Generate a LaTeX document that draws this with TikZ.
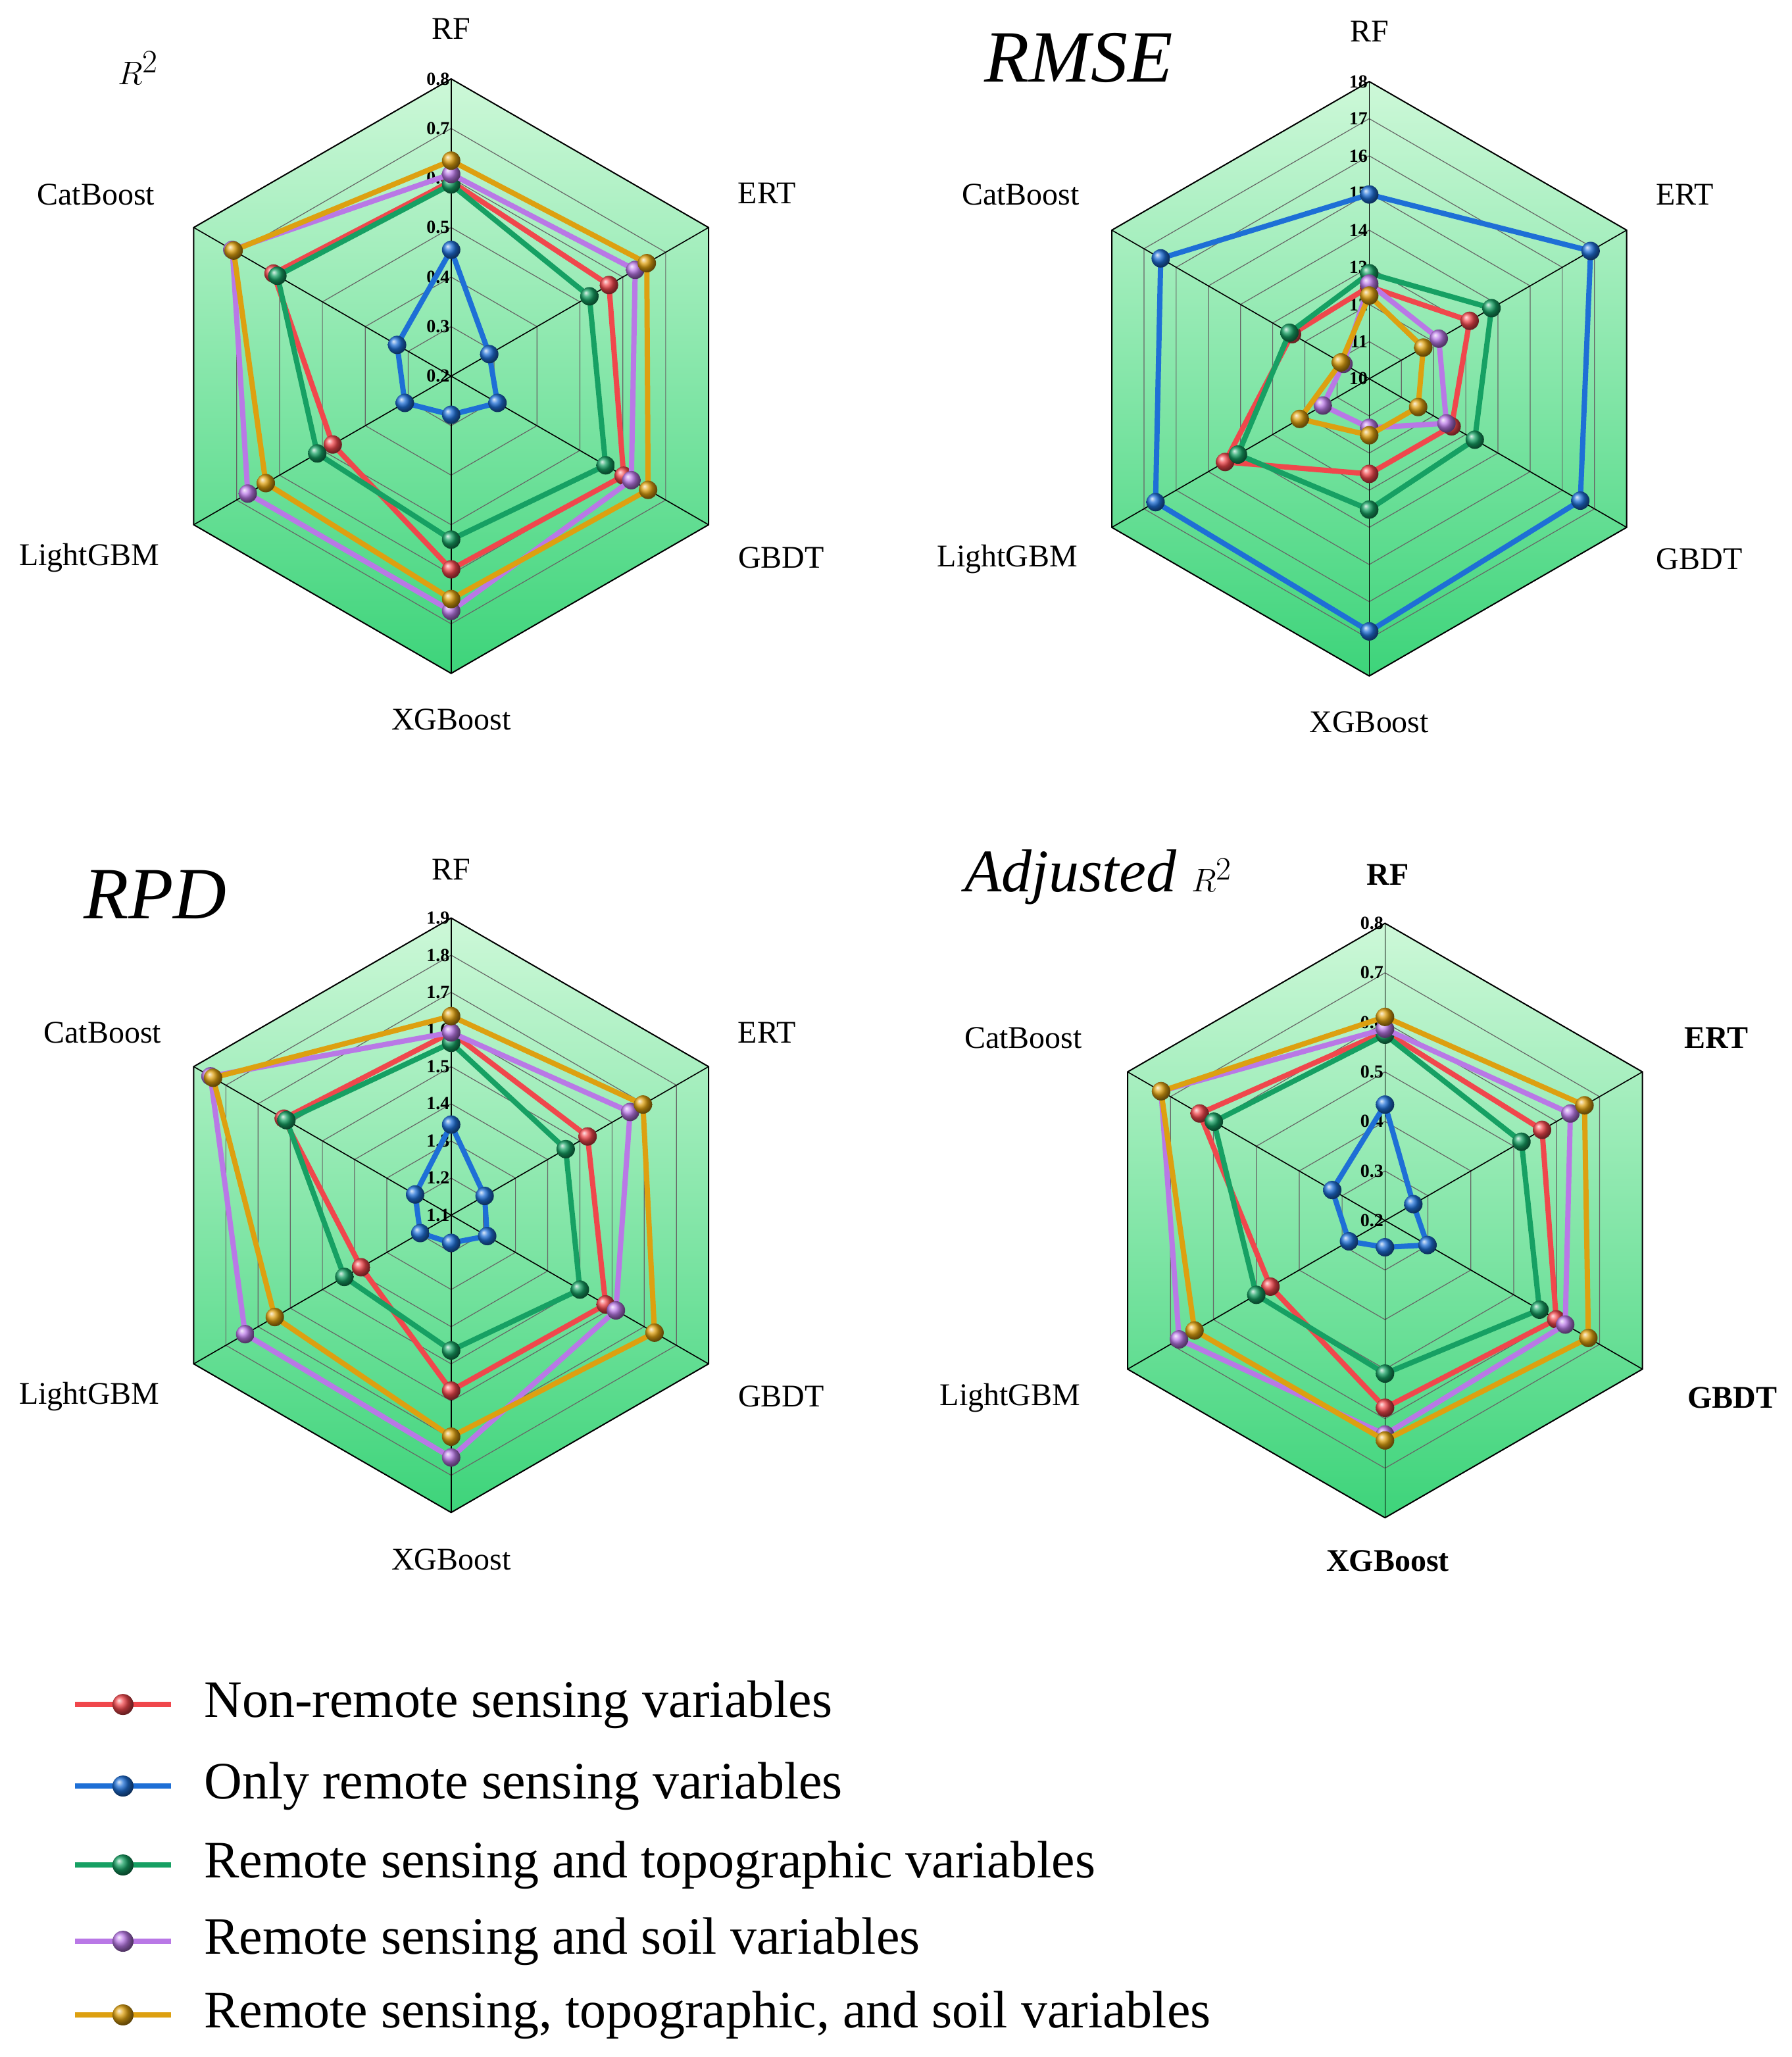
\documentclass[tikz,border=0pt]{standalone}
\usepackage{fontspec}
\setmainfont{Liberation Serif}
\usetikzlibrary{calc}
\begin{document}
\begin{tikzpicture}[x=1pt,y=1pt,
  lab/.style={font=\fontsize{24}{26}\selectfont},
  blab/.style={font=\bfseries\fontsize{24}{26}\selectfont},
  tick/.style={font=\bfseries\fontsize{14}{15}\selectfont,anchor=east,inner sep=1pt},
  ttl/.style={font=\itshape\fontsize{56}{60}\selectfont},
  ser/.style={line width=4pt,line join=round},
  ball/.style={ball color=#1,draw=none}]
\useasboundingbox (0,0) rectangle (1362,1564);
\definecolor{cR}{HTML}{F0474C}
\definecolor{cB}{HTML}{1E6FD6}
\definecolor{cG}{HTML}{16A063}
\definecolor{cP}{HTML}{B978E6}
\definecolor{cO}{HTML}{DDA010}
\definecolor{bgT}{HTML}{CDF8D8}
\definecolor{bgB}{HTML}{3DD47A}
\newcommand{\hexat}[2]{\coordinate (h1) at (90:#1*#2);\coordinate (h2) at (30:#1*#2);\coordinate (h3) at (-30:#1*#2);\coordinate (h4) at (-90:#1*#2);\coordinate (h5) at (-150:#1*#2);\coordinate (h6) at (150:#1*#2);}
\newcommand{\radarbg}[2]{% n rings, tick labels
  \hexat{1}{226}
  \shade[top color=bgT, bottom color=bgB] (h1)--(h2)--(h3)--(h4)--(h5)--(h6)--cycle;
  \foreach \k in {1,...,#1}{\hexat{\k/#1}{226}\draw[black!60,line width=0.6pt] (h1)--(h2)--(h3)--(h4)--(h5)--(h6)--cycle;}
  \hexat{1}{226}
  \draw[black,line width=1pt] (h1)--(h2)--(h3)--(h4)--(h5)--(h6)--cycle;
  \foreach \a in {90,30,-30,-90,-150,150}{\draw[black,line width=0.8pt] (0,0)--(\a:226);}
  \foreach \t [count=\i from 0] in {#2}{\node[tick] (tk\i) at (0,{226*\i/#1}) {\t};}
}
\newcommand{\series}[2]{%
  \foreach \v [count=\i] in {#2}{\coordinate (p\i) at ({150-60*\i}:{\v*226});}
  \draw[ser,#1] (p1)--(p2)--(p3)--(p4)--(p5)--(p6)--cycle;
  \foreach \i in {1,...,6}{\shade[ball=#1] (p\i) circle (7);}
}
% chart 1
\begin{scope}[shift={(343,1278)}]
\radarbg{6}{0.2,0.3,0.4,0.5,0.6,0.7,0.8}
\series{cB}{0.425,0.148,0.18,0.13,0.18,0.21}
\series{cR}{0.655,0.613,0.67,0.65,0.46,0.69}
\series{cG}{0.645,0.537,0.60,0.55,0.52,0.675}
\series{cP}{0.68,0.715,0.70,0.79,0.79,0.85}
\series{cO}{0.725,0.76,0.765,0.75,0.72,0.845}
\end{scope}
\node[ttl] at (105,1512) {$R^{2}$};
\node[lab] at (343,1542) {RF};
\node[lab] at (583,1417) {ERT};
\node[lab] at (594,1140) {GBDT};
\node[lab] at (343,1017) {XGBoost};
\node[lab] at (68,1140) {LightGBM};
\node[lab] at (73,1416) {CatBoost};
% chart 2
\begin{scope}[shift={(1041,1276)}]
\radarbg{8}{10,11,12,13,14,15,16,17,18}
\series{cB}{0.62,0.86,0.82,0.85,0.83,0.81}
\series{cR}{0.31,0.39,0.32,0.32,0.56,0.30}
\series{cG}{0.355,0.475,0.41,0.44,0.51,0.31}
\series{cP}{0.32,0.27,0.30,0.165,0.18,0.10}
\series{cO}{0.28,0.21,0.19,0.19,0.27,0.11}
\end{scope}
\node[ttl] at (820,1520) {RMSE};
\node[lab] at (1041,1540) {RF};
\node[lab] at (1281,1416) {ERT};
\node[lab] at (1292,1139) {GBDT};
\node[lab] at (1041,1015) {XGBoost};
\node[lab] at (766,1139) {LightGBM};
\node[lab] at (776,1416) {CatBoost};
% chart 3
\begin{scope}[shift={(343,640)}]
\radarbg{8}{1.1,1.2,1.3,1.4,1.5,1.6,1.7,1.8,1.9}
\series{cB}{0.305,0.13,0.14,0.093,0.12,0.14}
\series{cR}{0.615,0.53,0.60,0.59,0.35,0.65}
\series{cG}{0.58,0.445,0.50,0.455,0.415,0.64}
\series{cP}{0.615,0.695,0.64,0.815,0.80,0.935}
\series{cO}{0.67,0.745,0.79,0.745,0.685,0.925}
\end{scope}
\node[ttl] at (118,884) {RPD};
\node[lab] at (343,903) {RF};
\node[lab] at (583,779) {ERT};
\node[lab] at (594,502) {GBDT};
\node[lab] at (343,378) {XGBoost};
\node[lab] at (68,502) {LightGBM};
\node[lab] at (78,779) {CatBoost};
% chart 4
\begin{scope}[shift={(1053,636)}]
\radarbg{6}{0.2,0.3,0.4,0.5,0.6,0.7,0.8}
\series{cB}{0.39,0.11,0.165,0.09,0.14,0.205}
\series{cR}{0.635,0.61,0.665,0.63,0.445,0.72}
\series{cG}{0.625,0.53,0.60,0.515,0.50,0.665}
\series{cP}{0.645,0.72,0.70,0.72,0.80,0.87}
\series{cO}{0.685,0.775,0.79,0.74,0.74,0.87}
\end{scope}
\node[ttl,font=\itshape\fontsize{46}{50}\selectfont] at (835,897) {Adjusted $R^{2}$};
\node[blab] at (1055,899) {RF};
\node[blab] at (1305,775) {ERT};
\node[blab] at (1317,501) {GBDT};
\node[blab] at (1055,377) {XGBoost};
\node[lab] at (768,501) {LightGBM};
\node[lab] at (778,775) {CatBoost};
% legend
\foreach \c/\t/\y [count=\i] in {cR/Non-remote sensing variables/1296,cB/Only remote sensing variables/1358,cG/Remote sensing and topographic variables/1418,cP/Remote sensing and soil variables/1476,cO/{Remote sensing, topographic, and soil variables}/1532}{
  \coordinate (la\i) at (57,1564-\y);
  \coordinate (lb\i) at (130,1564-\y);
  \draw[line width=4pt,\c] (la\i)--(lb\i);
  \shade[ball=\c] ($(la\i)!0.5!(lb\i)$) circle (8);
  \node[anchor=west,font=\fontsize{40}{44}\selectfont,inner sep=0pt] (lt\i) at (155,1564-\y) {\t};
}
\end{tikzpicture}
\end{document}
